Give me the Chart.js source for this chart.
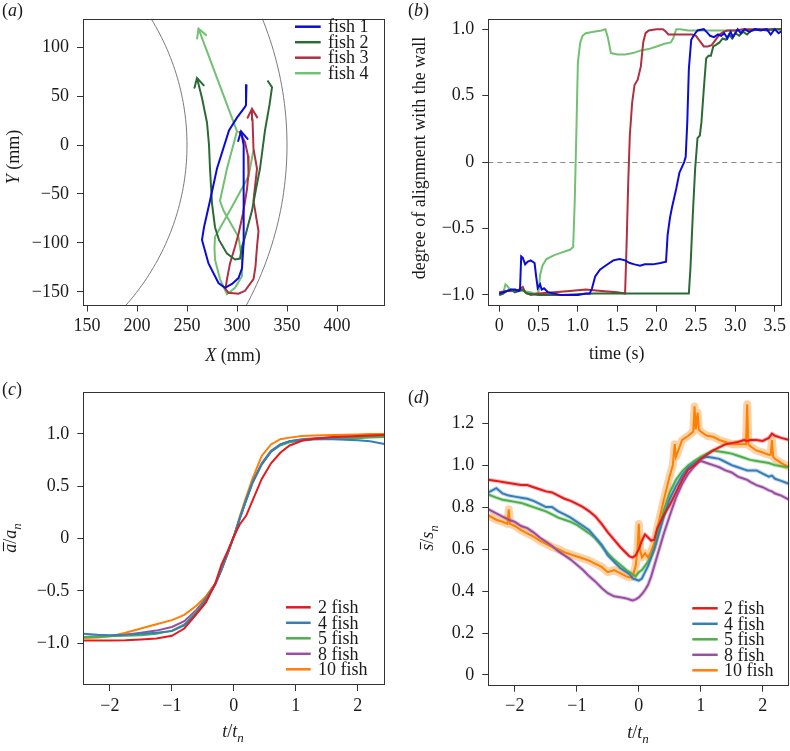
<!DOCTYPE html>
<html><head><meta charset="utf-8">
<script src="https://cdn.jsdelivr.net/npm/chart.js@4/dist/chart.umd.min.js"></script>
<style>
html,body{margin:0;padding:0;background:#fff;}
#wrap{position:relative;width:790px;height:751px;overflow:hidden;background:#fff;}
canvas{position:absolute;}
</style></head><body>
<div id="wrap">
<canvas id="ca" width="395" height="370" style="left:0;top:0"></canvas>
<canvas id="cb" width="395" height="370" style="left:395px;top:0"></canvas>
<canvas id="cc" width="395" height="381" style="left:0;top:370px"></canvas>
<canvas id="cd" width="395" height="381" style="left:395px;top:370px"></canvas>
</div>
<script>
// ---------- DATA ----------
// (a) trajectories (mm)
const fishLabels = ['fish 1','fish 2','fish 3','fish 4'];
const fish1X = [309.5,309,308,300,292,280,273,267,265,271.5,281.5,288,295,301.5,305,306.5,306.5,306.5,307,304];
const fish1Y = [62,41,39,28,15,-24,-57,-84,-97,-121,-141,-146,-142,-136,-126,-101,-60,-24,0,14];
const fish2X = [330.5,335,332.5,328,323,319,315,308,305,303,298,290,282,278,275,273,272,270,265,260];
const fish2Y = [66,59,41,15,-24,-45,-67,-94,-104,-116,-117,-111,-97,-84,-60,-24,0,23,48,68.5];
const fish3X = [302,305,308,311,311.5,310,306,301.5,298,293,290,288.5,291.5,301.5,308,316.5,318.5,320,321.5,316.5,320,316.5,315.5,315];
const fish3Y = [14,9,3,-11,-29,-45,-70,-91,-104,-121,-137,-147,-151,-152,-149,-137,-124,-104,-88,-57,-24,-4,26,37];
const fish4X = [316.5,311.5,295,278,277.5,278,283,290,298,305,305,301.5,286.5,283,290,300,261.5];
const fish4Y = [-5,-32,-63,-94,-105,-117,-137,-152.5,-146,-134,-117,-94,-67,-57,-24,14,119];
const wallRadii = [250,350];
const aXTicks = [150,200,250,300,350,400];
const aYTicks = [-150,-100,-50,0,50,100];
const aXLabels = ['150','200','250','300','350','400'];
const aYLabels = ['\u2212150','\u2212100','\u221250','0','50','100'];

// (b) alignment vs time
const b1T = [0,0.05,0.1,0.15,0.2,0.25,0.265,0.28,0.3,0.33,0.36,0.4,0.45,0.47,0.49,0.52,0.54,0.57,0.62,0.7,0.78,0.9,1.0,1.1,1.15,1.18,1.22,1.28,1.35,1.45,1.53,1.6,1.66,1.72,1.79,1.85,1.95,2.05,2.12,2.14,2.17,2.2,2.25,2.29,2.35,2.37,2.39,2.41,2.44,2.48,2.52,2.6,2.65,2.68,2.73,2.78,2.82,2.86,2.9,2.94,2.97,3.0,3.03,3.07,3.12,3.18,3.25,3.32,3.4,3.45,3.5,3.55,3.6];
const b1V = [-0.99,-0.98,-0.97,-0.96,-0.96,-0.97,-0.96,-0.71,-0.72,-0.77,-0.75,-0.74,-0.76,-0.86,-0.95,-0.92,-0.96,-0.95,-0.98,-0.99,-1.0,-1.0,-1.0,-0.99,-0.99,-0.95,-0.86,-0.81,-0.78,-0.74,-0.73,-0.74,-0.76,-0.77,-0.78,-0.77,-0.77,-0.76,-0.75,-0.55,-0.42,-0.33,-0.2,-0.08,0.0,0.04,0.3,0.7,0.92,0.96,0.99,1.0,0.97,0.95,0.94,0.96,0.95,0.97,0.93,0.98,0.94,0.97,1.0,0.97,1.0,0.98,1.0,0.99,1.0,0.96,1.0,0.97,0.99];
const b2T = [0,0.05,0.1,0.15,0.2,0.25,0.3,0.35,0.5,0.8,1.2,1.6,2.0,2.3,2.41,2.43,2.46,2.49,2.52,2.55,2.57,2.6,2.63,2.66,2.69,2.72,2.75,2.8,2.84,2.88,2.92,2.96,3.0,3.05,3.1,3.15,3.2,3.3,3.4,3.5,3.6];
const b2V = [-1.0,-0.99,-0.97,-0.96,-0.98,-0.97,-0.96,-0.99,-1.0,-1.0,-0.99,-0.99,-0.99,-0.99,-0.99,-0.8,-0.4,-0.05,0.18,0.2,0.3,0.55,0.78,0.8,0.8,0.87,0.88,0.9,0.93,0.92,0.96,0.93,0.97,0.95,0.98,0.96,0.99,1.0,0.99,1.0,1.0];
const b3T = [0,0.1,0.2,0.25,0.3,0.33,0.4,0.5,0.7,0.9,1.1,1.3,1.5,1.6,1.62,1.64,1.66,1.69,1.72,1.76,1.8,1.83,1.86,1.9,2.0,2.08,2.12,2.15,2.3,2.45,2.5,2.55,2.6,2.65,2.7,2.75,2.8,2.85,2.9,3.0,3.1,3.2,3.4,3.6];
const b3V = [-0.98,-0.97,-0.97,-0.96,-0.94,-0.98,-1.0,-0.99,-0.98,-0.97,-0.96,-0.97,-0.98,-0.99,-0.6,-0.15,0.2,0.45,0.58,0.62,0.72,0.9,0.97,0.99,1.0,1.0,0.98,0.96,0.96,0.96,0.95,0.91,0.87,0.87,0.88,0.92,0.96,0.98,0.99,0.99,1.0,1.0,1.0,1.0];
const b4T = [0,0.05,0.08,0.1,0.15,0.2,0.3,0.4,0.45,0.5,0.52,0.55,0.6,0.7,0.8,0.9,0.94,0.96,0.98,1.0,1.03,1.06,1.1,1.2,1.3,1.35,1.38,1.42,1.5,1.6,1.7,1.8,1.9,2.0,2.1,2.18,2.21,2.25,2.3,2.4,2.6,2.8,3.0,3.2,3.4,3.6];
const b4V = [-1.0,-0.99,-0.92,-0.93,-0.97,-0.96,-0.97,-0.98,-0.99,-0.98,-0.85,-0.78,-0.73,-0.7,-0.68,-0.66,-0.64,-0.3,0.2,0.75,0.9,0.95,0.97,0.98,0.99,1.0,0.94,0.82,0.81,0.81,0.82,0.84,0.85,0.87,0.89,0.9,0.93,1.0,1.0,0.99,0.99,0.99,0.99,0.99,1.0,1.0];
const bXTicks = [0,0.5,1,1.5,2,2.5,3,3.5];
const bXLabels = ['0','0.5','1.0','1.5','2.0','2.5','3.0','3.5'];
const alignTicks = [-1,-0.5,0,0.5,1];
const alignLabels = ['\u22121.0','\u22120.5','0','0.5','1.0'];

// (c) mean alignment vs scaled time
const groupLabels = ['2 fish','4 fish','5 fish','8 fish','10 fish'];
const cT = [-2.43,-2.2,-2,-1.75,-1.5,-1.25,-1,-0.8,-0.6,-0.45,-0.3,-0.2,-0.1,0,0.1,0.2,0.3,0.45,0.6,0.75,0.9,1.1,1.3,1.6,2,2.2,2.43];
const c2 = [-0.975,-0.975,-0.975,-0.972,-0.965,-0.955,-0.93,-0.86,-0.72,-0.61,-0.43,-0.25,-0.12,0.02,0.14,0.22,0.36,0.57,0.72,0.82,0.89,0.935,0.955,0.97,0.98,0.985,0.99];
const c4 = [-0.91,-0.92,-0.925,-0.92,-0.91,-0.9,-0.885,-0.83,-0.71,-0.59,-0.44,-0.3,-0.14,0.02,0.2,0.37,0.53,0.71,0.83,0.9,0.93,0.945,0.95,0.95,0.94,0.93,0.905];
const c5 = [-0.94,-0.94,-0.935,-0.93,-0.925,-0.91,-0.88,-0.82,-0.7,-0.58,-0.44,-0.3,-0.14,0.02,0.2,0.37,0.53,0.71,0.83,0.89,0.92,0.94,0.95,0.955,0.96,0.965,0.97];
const c8 = [-0.94,-0.935,-0.93,-0.92,-0.9,-0.88,-0.845,-0.79,-0.68,-0.57,-0.43,-0.3,-0.14,0.02,0.2,0.37,0.54,0.72,0.84,0.9,0.93,0.95,0.96,0.965,0.97,0.97,0.97];
const c10 = [-0.95,-0.945,-0.935,-0.9,-0.86,-0.82,-0.78,-0.73,-0.64,-0.55,-0.43,-0.29,-0.15,0.02,0.22,0.4,0.57,0.79,0.9,0.95,0.965,0.98,0.985,0.99,0.995,1.0,1.0];
const scaledTicks = [-2,-1,0,1,2];
const scaledLabels = ['\u22122','\u22121','0','1','2'];

// (d) mean speed vs scaled time
const dT = [-2.43,-2.3,-2.2,-2.1,-2.0,-1.9,-1.8,-1.7,-1.6,-1.5,-1.4,-1.3,-1.2,-1.1,-1.0,-0.9,-0.8,-0.7,-0.6,-0.5,-0.4,-0.3,-0.2,-0.15,-0.1,-0.05,0,0.05,0.1,0.15,0.2,0.25,0.3,0.4,0.5,0.6,0.7,0.8,0.9,0.95,1.0,1.1,1.2,1.3,1.4,1.5,1.6,1.7,1.75,1.8,1.9,2.0,2.1,2.15,2.2,2.3,2.43];
const d2 = [0.93,0.925,0.92,0.915,0.91,0.905,0.905,0.895,0.885,0.875,0.87,0.855,0.84,0.83,0.815,0.8,0.78,0.755,0.72,0.68,0.645,0.61,0.58,0.565,0.56,0.57,0.6,0.64,0.67,0.655,0.64,0.645,0.7,0.76,0.81,0.87,0.93,0.98,1.0,1.015,1.03,1.05,1.07,1.085,1.1,1.105,1.11,1.12,1.115,1.12,1.12,1.115,1.13,1.15,1.14,1.13,1.12];
const d4 = [0.87,0.89,0.865,0.855,0.85,0.845,0.84,0.83,0.815,0.8,0.8,0.78,0.765,0.75,0.73,0.71,0.69,0.655,0.62,0.57,0.54,0.51,0.49,0.48,0.46,0.455,0.45,0.46,0.49,0.52,0.56,0.6,0.65,0.75,0.84,0.9,0.95,0.99,1.01,1.02,1.03,1.04,1.035,1.03,1.015,1.0,0.99,0.98,0.975,0.975,0.975,0.96,0.945,0.95,0.935,0.925,0.91];
const d5 = [0.86,0.845,0.835,0.83,0.825,0.82,0.81,0.8,0.79,0.78,0.765,0.75,0.74,0.73,0.715,0.695,0.675,0.65,0.615,0.58,0.55,0.525,0.5,0.49,0.48,0.47,0.49,0.5,0.52,0.54,0.57,0.61,0.67,0.78,0.87,0.93,0.97,1.0,1.02,1.03,1.04,1.055,1.07,1.065,1.06,1.055,1.045,1.035,1.03,1.025,1.02,1.015,1.01,1.005,1.0,0.995,0.99];
const d8 = [0.79,0.77,0.755,0.74,0.73,0.71,0.7,0.68,0.655,0.635,0.615,0.59,0.57,0.55,0.525,0.5,0.47,0.445,0.415,0.39,0.375,0.37,0.365,0.36,0.355,0.36,0.37,0.385,0.405,0.43,0.47,0.52,0.57,0.67,0.76,0.845,0.91,0.96,0.995,1.01,1.02,1.01,1.0,0.99,0.975,0.965,0.945,0.935,0.93,0.92,0.905,0.895,0.88,0.875,0.865,0.855,0.835];
const d10T = [-2.43,-2.3,-2.2,-2.12,-2.1,-2.08,-2.0,-1.9,-1.8,-1.7,-1.6,-1.5,-1.4,-1.3,-1.2,-1.1,-1.0,-0.9,-0.8,-0.7,-0.6,-0.5,-0.4,-0.3,-0.2,-0.15,-0.1,-0.05,-0.02,0,0.02,0.05,0.1,0.15,0.2,0.25,0.3,0.4,0.5,0.55,0.58,0.6,0.7,0.8,0.88,0.9,0.92,0.95,0.97,1.0,1.1,1.2,1.3,1.4,1.5,1.6,1.7,1.73,1.75,1.77,1.8,1.9,2.0,2.1,2.13,2.15,2.17,2.2,2.3,2.43];
const d10 = [0.76,0.74,0.73,0.72,0.79,0.72,0.71,0.69,0.675,0.66,0.64,0.625,0.61,0.6,0.585,0.575,0.565,0.555,0.545,0.53,0.515,0.49,0.5,0.485,0.47,0.465,0.47,0.52,0.6,0.72,0.6,0.56,0.58,0.56,0.59,0.63,0.7,0.83,0.95,1.0,1.1,1.04,1.12,1.14,1.16,1.28,1.17,1.25,1.17,1.16,1.14,1.135,1.12,1.11,1.1,1.1,1.1,1.1,1.29,1.1,1.09,1.07,1.06,1.05,1.05,1.12,1.04,1.03,1.01,0.99];
const speedTicks = [0,0.2,0.4,0.6,0.8,1.0,1.2];
const speedLabels = ['0','0.2','0.4','0.6','0.8','1.0','1.2'];

// ---------- STYLE / HELPERS ----------
const SERIF = '"Liberation Serif","DejaVu Serif",serif';
const INK = '#1a1a1a';
const fishColors = ['#0b0bd9','#2c6a35','#b02f40','#72c072'];
const groupColors = ['#e41a1c','#377eb8','#4daf4a','#984ea3','#ff7f00'];
const pts = (xs, ys) => xs.map((x, i) => ({x: x, y: ys[i]}));

function axis(min, max, ticks, labels, size, isX) {
  return {
    type: 'linear', min: min, max: max,
    afterBuildTicks: s => { s.ticks = ticks.map(v => ({value: v})); },
    ticks: { autoSkip: false, maxRotation: 0, minRotation: 0, color: INK,
      font: {family: SERIF, size: 18}, padding: isX ? 4 : 8,
      callback: (v, i) => labels[i] },
    grid: { drawOnChartArea: false, drawTicks: true, tickLength: 6, color: '#333', lineWidth: 1 },
    border: { display: false },
    afterFit: s => { if (isX) s.height = size; else s.width = size; }
  };
}

function drawRich(ctx, parts, x, y, rot, align) {
  ctx.save();
  ctx.translate(x, y);
  if (rot) ctx.rotate(rot);
  const F = p => (p.it ? 'italic ' : '') + (p.sub ? 13 : 18) + 'px ' + SERIF;
  let w = 0;
  parts.forEach(p => { ctx.font = F(p); p.w = ctx.measureText(p.t).width; w += p.w; });
  let cx = align === 'left' ? 0 : -w / 2;
  ctx.fillStyle = INK; ctx.strokeStyle = INK;
  ctx.textBaseline = 'alphabetic'; ctx.textAlign = 'left';
  parts.forEach(p => {
    ctx.font = F(p);
    ctx.fillText(p.t, cx, p.sub ? 5 : 0);
    if (p.over) {
      ctx.lineWidth = 1.1; ctx.beginPath();
      ctx.moveTo(cx + 1.5, -12.5); ctx.lineTo(cx + p.w + 1.5, -12.5); ctx.stroke();
    }
    cx += p.w;
  });
  ctx.restore();
}

const decor = {
  id: 'decor',
  beforeDatasetsDraw(chart) {
    const o = chart.options.plugins.decor, ctx = chart.ctx, ca = chart.chartArea;
    const xs = chart.scales.x, ys = chart.scales.y;
    ctx.save();
    ctx.beginPath(); ctx.rect(ca.left, ca.top, ca.right - ca.left, ca.bottom - ca.top); ctx.clip();
    if (o.arcs) {
      ctx.strokeStyle = '#7a7a7a'; ctx.lineWidth = 1;
      o.arcs.forEach(r => {
        ctx.beginPath();
        for (let k = 0; k <= 180; k++) {
          const th = -Math.PI / 2 + Math.PI * k / 180;
          const px = xs.getPixelForValue(r * Math.cos(th)), py = ys.getPixelForValue(r * Math.sin(th));
          if (k) ctx.lineTo(px, py); else ctx.moveTo(px, py);
        }
        ctx.stroke();
      });
    }
    if (o.zeroLine) {
      const py = Math.round(ys.getPixelForValue(0)) + 0.5;
      ctx.strokeStyle = '#888'; ctx.lineWidth = 1; ctx.setLineDash([5, 4]);
      ctx.beginPath(); ctx.moveTo(ca.left, py); ctx.lineTo(ca.right, py); ctx.stroke();
      ctx.setLineDash([]);
    }
    if (o.bands) {
      chart.data.datasets.forEach((ds, i) => {
        const meta = chart.getDatasetMeta(i);
        ctx.strokeStyle = o.bands[i][0]; ctx.lineWidth = o.bands[i][1]; ctx.lineJoin = 'round';
        ctx.beginPath();
        meta.data.forEach((el, k) => { if (k) ctx.lineTo(el.x, el.y); else ctx.moveTo(el.x, el.y); });
        ctx.stroke();
      });
    }
    ctx.restore();
  },
  afterDatasetsDraw(chart) {
    const o = chart.options.plugins.decor, ctx = chart.ctx;
    if (o.arrows) {
      chart.data.datasets.forEach((ds, i) => {
        const d = chart.getDatasetMeta(i).data;
        const p1 = d[d.length - 1], p0 = d[d.length - 2];
        const ang = Math.atan2(p1.y - p0.y, p1.x - p0.x), L = 10, a = 0.5;
        ctx.save(); ctx.strokeStyle = ds.borderColor; ctx.lineWidth = 2; ctx.lineCap = 'round';
        ctx.beginPath();
        ctx.moveTo(p1.x - L * Math.cos(ang - a), p1.y - L * Math.sin(ang - a));
        ctx.lineTo(p1.x, p1.y);
        ctx.lineTo(p1.x - L * Math.cos(ang + a), p1.y - L * Math.sin(ang + a));
        ctx.stroke(); ctx.restore();
      });
    }
  },
  afterDraw(chart) {
    const o = chart.options.plugins.decor, ctx = chart.ctx, ca = chart.chartArea;
    ctx.save();
    ctx.strokeStyle = '#333'; ctx.lineWidth = 1;
    ctx.strokeRect(Math.round(ca.left) + 0.5, Math.round(ca.top) + 0.5,
      Math.round(ca.right) - Math.round(ca.left) - 1, Math.round(ca.bottom) - Math.round(ca.top) - 1);
    ctx.restore();
    o.titles.forEach(t => drawRich(ctx, t.parts, t.x, t.y, t.rot, t.align));
    if (o.legend) {
      const L = o.legend;
      chart.data.datasets.forEach((ds, i) => {
        const y = L.y0 + i * L.dy;
        ctx.save();
        ctx.strokeStyle = ds.borderColor; ctx.lineWidth = 2.5;
        ctx.beginPath(); ctx.moveTo(L.x1, y); ctx.lineTo(L.x2, y); ctx.stroke();
        ctx.fillStyle = INK; ctx.font = '18px ' + SERIF; ctx.textBaseline = 'middle'; ctx.textAlign = 'left';
        ctx.fillText(ds.label, L.tx, y + 1);
        ctx.restore();
      });
    }
  }
};

function lineDs(label, data, color, w) {
  return { label: label, data: data, borderColor: color, backgroundColor: color,
    borderWidth: w || 2, pointRadius: 0, showLine: true, tension: 0, fill: false };
}

function makeChart(id, datasets, scales, padding, decorOpts) {
  return new Chart(document.getElementById(id), {
    type: 'scatter',
    data: { datasets: datasets },
    options: {
      responsive: false, animation: false, devicePixelRatio: 1, events: [],
      layout: { padding: padding },
      scales: scales,
      plugins: { legend: {display: false}, tooltip: {enabled: false}, decor: decorOpts }
    },
    plugins: [decor]
  });
}

const lab = ch => [{t:'('},{t:ch,it:1},{t:')'}];

// (a)
makeChart('ca',
  [lineDs(fishLabels[0], pts(fish1X, fish1Y), fishColors[0]),
   lineDs(fishLabels[1], pts(fish2X, fish2Y), fishColors[1]),
   lineDs(fishLabels[2], pts(fish3X, fish3Y), fishColors[2]),
   lineDs(fishLabels[3], pts(fish4X, fish4Y), fishColors[3])],
  { x: axis(146, 448, aXTicks, aXLabels, 64.5, true),
    y: axis(-164, 129, aYTicks, aYLabels, 83, false) },
  { left: 0, top: 12, right: 10, bottom: 0 },
  { arcs: wallRadii, arrows: true,
    legend: { x1: 295, x2: 320.7, tx: 328, y0: 26.7, dy: 15.5 },
    titles: [
      { parts: lab('a'), x: 2, y: 16, align: 'left' },
      { parts: [{t:'X',it:1},{t:' (mm)'}], x: 233, y: 361 },
      { parts: [{t:'Y',it:1},{t:' (mm)'}], x: 19, y: 157, rot: -Math.PI / 2 }
    ] });

// (b)
makeChart('cb',
  [lineDs(fishLabels[0], pts(b1T, b1V), fishColors[0]),
   lineDs(fishLabels[1], pts(b2T, b2V), fishColors[1]),
   lineDs(fishLabels[2], pts(b3T, b3V), fishColors[2]),
   lineDs(fishLabels[3], pts(b4T, b4V), fishColors[3])],
  { x: axis(-0.138, 3.593, bXTicks, bXLabels, 64.3, true),
    y: axis(-1.081, 1.078, alignTicks, alignLabels, 93.3, false) },
  { left: 0, top: 11.7, right: 4.3, bottom: 0 },
  { zeroLine: true,
    titles: [
      { parts: lab('b'), x: 13, y: 16, align: 'left' },
      { parts: [{t:'time (s)'}], x: 221.7, y: 359 },
      { parts: [{t:'degree of alignment with the wall'}], x: 30, y: 158, rot: -Math.PI / 2 }
    ] });

// (c)
makeChart('cc',
  [lineDs(groupLabels[0], pts(cT, c2), groupColors[0]),
   lineDs(groupLabels[1], pts(cT, c4), groupColors[1]),
   lineDs(groupLabels[2], pts(cT, c5), groupColors[2]),
   lineDs(groupLabels[3], pts(cT, c8), groupColors[3]),
   lineDs(groupLabels[4], pts(cT, c10), groupColors[4])],
  { x: axis(-2.43, 2.44, scaledTicks, scaledLabels, 66, true),
    y: axis(-1.4, 1.404, alignTicks, alignLabels, 83.3, false) },
  { left: 0, top: 21.7, right: 10, bottom: 0 },
  { legend: { x1: 286, x2: 310.7, tx: 318, y0: 237.3, dy: 15.5 },
    titles: [
      { parts: lab('c'), x: 2, y: 25, align: 'left' },
      { parts: [{t:'t',it:1},{t:'/'},{t:'t',it:1},{t:'n',it:1,sub:1}], x: 233, y: 367 },
      { parts: [{t:'a',it:1,over:1},{t:'/'},{t:'a',it:1},{t:'n',it:1,sub:1}], x: 16, y: 168, rot: -Math.PI / 2 }
    ] });

// (d)
makeChart('cd',
  [lineDs(groupLabels[0], pts(dT, d2), groupColors[0]),
   lineDs(groupLabels[1], pts(dT, d4), groupColors[1]),
   lineDs(groupLabels[2], pts(dT, d5), groupColors[2]),
   lineDs(groupLabels[3], pts(dT, d8), groupColors[3]),
   lineDs(groupLabels[4], pts(d10T, d10), groupColors[4])],
  { x: axis(-2.43, 2.43, scaledTicks, scaledLabels, 65.3, true),
    y: axis(-0.051, 1.35, speedTicks, speedLabels, 93.3, false) },
  { left: 0, top: 21.7, right: 0.7, bottom: 0 },
  { bands: [['rgba(228,26,28,0.3)',4],['rgba(55,126,184,0.3)',4],['rgba(77,175,74,0.3)',4],['rgba(152,78,163,0.3)',4],['rgba(255,127,0,0.35)',8]],
    legend: { x1: 297.3, x2: 322.7, tx: 329, y0: 238.3, dy: 15.5 },
    titles: [
      { parts: lab('d'), x: 13, y: 33, align: 'left' },
      { parts: [{t:'t',it:1},{t:'/'},{t:'t',it:1},{t:'n',it:1,sub:1}], x: 243, y: 368 },
      { parts: [{t:'s',it:1,over:1},{t:'/'},{t:'s',it:1},{t:'n',it:1,sub:1}], x: 38, y: 168, rot: -Math.PI / 2 }
    ] });
</script>
</body></html>
